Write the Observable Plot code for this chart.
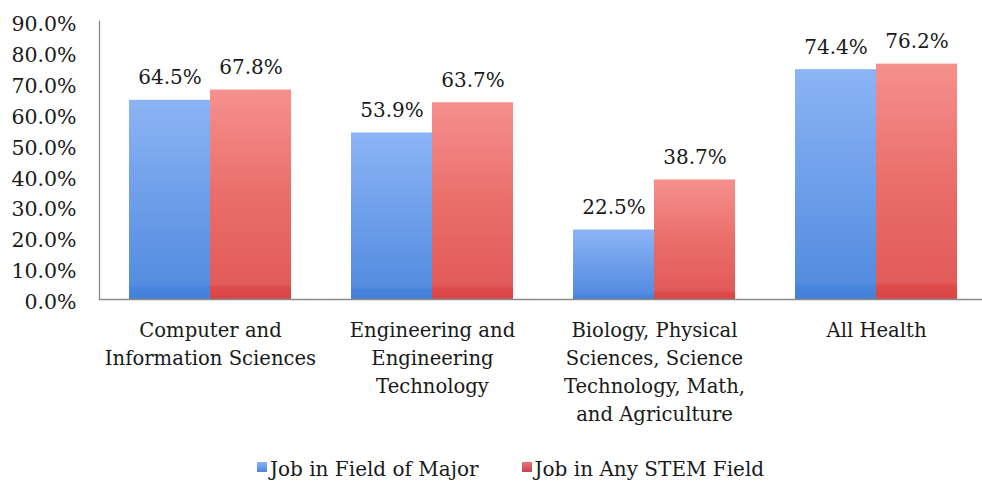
<!DOCTYPE html>
<html><head><meta charset="utf-8">
<script src="https://cdn.jsdelivr.net/npm/d3@7"></script>
<script src="https://cdn.jsdelivr.net/npm/@observablehq/plot@0.6"></script>
<style>
html,body{margin:0;padding:0;background:#fff;}
body{width:982px;height:487px;overflow:hidden;position:relative;font-family:"DejaVu Serif",serif;}
#legend{position:absolute;left:257px;top:457px;display:flex;align-items:center;font-size:20px;color:#1a1a1a;white-space:nowrap;}
#legend .item{display:flex;align-items:center;margin-right:43px;}
#legend .sw{display:inline-block;width:10px;height:10px;margin-right:3px;position:relative;top:-2px;}
</style></head><body>
<div id="chart"></div>
<div id="legend"></div>
<script>
const categories = ["Computer and Information Sciences", "Engineering and Engineering Technology", "Biology, Physical Sciences, Science Technology, Math, and Agriculture", "All Health"];
const categoryLines = ["Computer and\nInformation Sciences", "Engineering and\nEngineering\nTechnology", "Biology, Physical\nSciences, Science\nTechnology, Math,\nand Agriculture", "All Health"];
const series = ["Job in Field of Major", "Job in Any STEM Field"];
const fieldOfMajor = [64.5, 53.9, 22.5, 74.4];
const anyStemField = [67.8, 63.7, 38.7, 76.2];
const yTicks = [0, 10, 20, 30, 40, 50, 60, 70, 80, 90];

const rows = [];
categories.forEach((c, i) => {
  rows.push({category: c, series: series[0], value: fieldOfMajor[i]});
  rows.push({category: c, series: series[1], value: anyStemField[i]});
});
const labelOf = new Map(categories.map((c, i) => [c, categoryLines[i]]));
const fmt = v => v.toFixed(1) + "%";
const textColor = "#1a1a1a";
const axisColor = "#8a8a8a";

const plot = Plot.plot({
  width: 988,
  height: 445,
  marginTop: 21,
  marginLeft: 98,
  marginRight: 0,
  marginBottom: 146,
  style: {fontFamily: "DejaVu Serif", fontSize: "20px", background: "white", maxWidth: "none", overflow: "visible"},
  fx: {domain: categories, padding: 0, label: null},
  x: {domain: series, paddingInner: 0, paddingOuter: 0.364, axis: null},
  y: {domain: [0, 90], label: null},
  marks: [
    Plot.barY(rows.filter(d => d.series === series[0]), {fx: "category", x: "series", y: "value", fill: "url(#gBlue)"}),
    Plot.barY(rows.filter(d => d.series === series[1]), {fx: "category", x: "series", y: "value", fill: "url(#gRed)"}),
    Plot.text(rows, {fx: "category", x: "series", y: "value", text: d => fmt(d.value), lineAnchor: "bottom", dy: -16, fill: textColor, fontSize: 20}),
    Plot.ruleY([0], {stroke: axisColor, strokeWidth: 1.3}),
    Plot.frame({anchor: "left", stroke: axisColor, strokeWidth: 1.3, fx: () => categories[0]}),
    Plot.axisY({ticks: yTicks, tickSize: 0, tickPadding: 23, tickFormat: fmt, fill: textColor, dy: 3, fontSize: 20.5, label: null}),
    Plot.axisFx({anchor: "bottom", tickSize: 0, tickPadding: 18, tickFormat: d => labelOf.get(d), lineHeight: 1.42, fill: textColor, fontSize: 19.6, label: null})
  ]
});

const svg = plot.tagName.toLowerCase() === "svg" ? plot : plot.querySelector("svg");
const defs = d3.select(svg).insert("defs", ":first-child");
function grad(id, stops) {
  const g = defs.append("linearGradient").attr("id", id).attr("x1", 0).attr("y1", 0).attr("x2", 0).attr("y2", 1);
  stops.forEach(([o, c]) => g.append("stop").attr("offset", o).attr("stop-color", c));
}
grad("gBlue", [[0, "#8cb4f5"], [0.5, "#6d9ee9"], [0.93, "#548ce0"], [0.945, "#4884dc"], [1, "#4281da"]]);
grad("gRed", [[0, "#f5908d"], [0.5, "#ea6e6b"], [0.93, "#e15b5a"], [0.945, "#dd4c4b"], [1, "#da4545"]]);
document.getElementById("chart").appendChild(plot);

const legend = document.getElementById("legend");
const swatchFill = ["linear-gradient(#8db5f5,#4a86dc)", "linear-gradient(#e8747c,#c94052)"];
series.forEach((s, i) => {
  const item = document.createElement("span");
  item.className = "item";
  const sw = document.createElement("span");
  sw.className = "sw";
  sw.style.background = swatchFill[i];
  item.appendChild(sw);
  item.appendChild(document.createTextNode(s));
  legend.appendChild(item);
});
</script>
</body></html>
